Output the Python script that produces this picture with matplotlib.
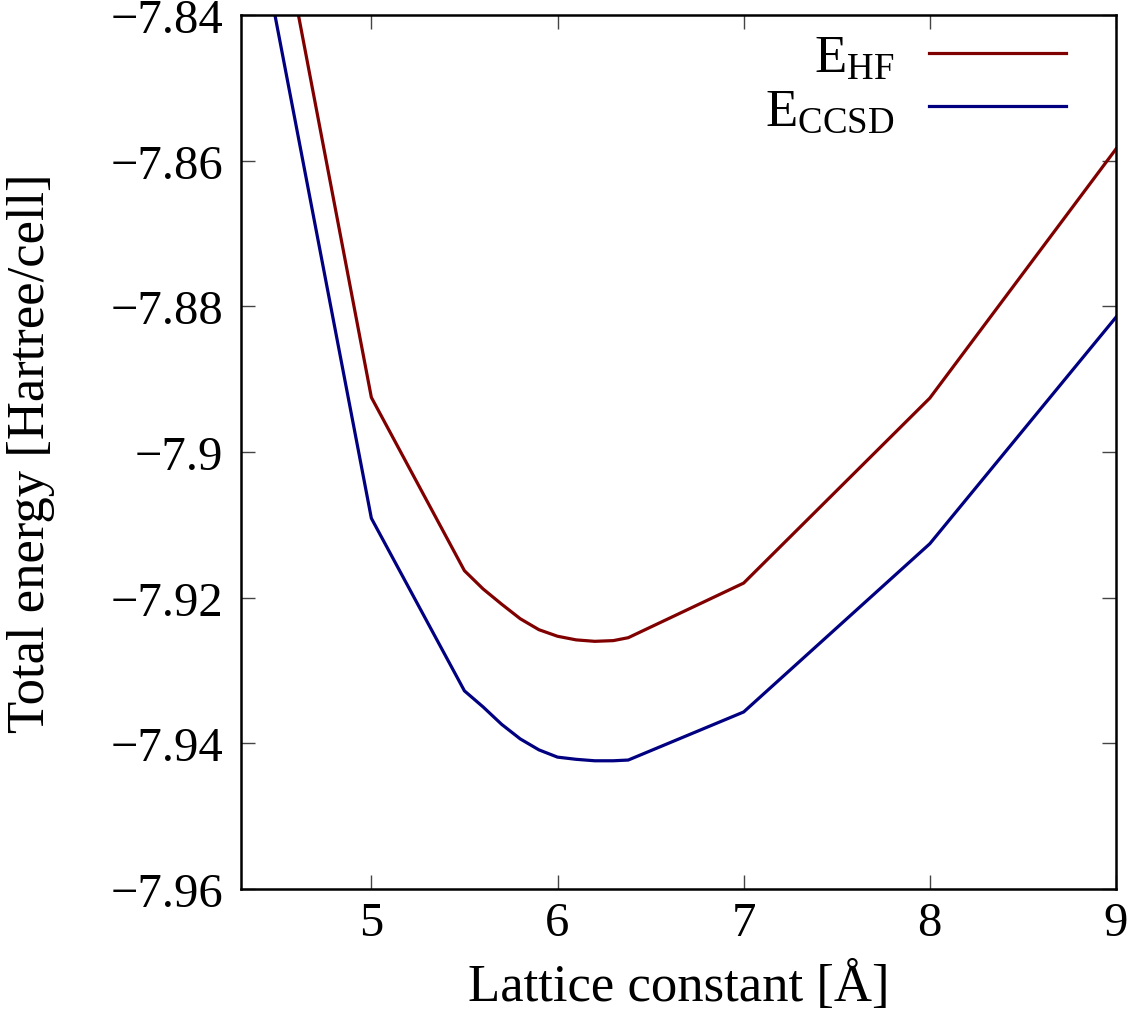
import matplotlib.pyplot as plt
from matplotlib.ticker import FuncFormatter

plt.rcParams['font.family'] = ['Liberation Serif', 'DejaVu Serif']
plt.rcParams['mathtext.fontset'] = 'custom'
plt.rcParams['mathtext.rm'] = 'Liberation Serif'
plt.rcParams['mathtext.it'] = 'Liberation Serif:italic'

# lattice constant [A]
lattice = [4.0, 5.0, 5.5, 5.6, 5.7, 5.8, 5.9, 6.0, 6.1, 6.2, 6.3, 6.38, 7.0, 8.0, 9.0]
# total energies [Hartree/cell]
e_hf = [-7.7585, -7.8925, -7.9163, -7.9188, -7.9209, -7.9229, -7.9244, -7.9253,
        -7.9258, -7.9260, -7.9259, -7.9255, -7.9180, -7.8926, -7.8584]
e_ccsd = [-7.7757, -7.9091, -7.9328, -7.9350, -7.9374, -7.9394, -7.9409, -7.9419,
          -7.9422, -7.9424, -7.9424, -7.9423, -7.9357, -7.9126, -7.8815]

xticks = [5, 6, 7, 8, 9]
yticks = [-7.96, -7.94, -7.92, -7.90, -7.88, -7.86, -7.84]

fig = plt.figure(figsize=(11.37, 10.2), dpi=100)
ax = fig.add_axes([0.212, 0.1275, 0.7695, 0.8568])

ax.plot(lattice, e_hf, color='#800000', lw=2.3, label=r'E$_{\mathrm{HF}}$')
ax.plot(lattice, e_ccsd, color='#000080', lw=2.3, label=r'E$_{\mathrm{CCSD}}$')

ax.set_xlim(4.3, 9)
ax.set_ylim(-7.96, -7.84)
ax.set_xticks(xticks)
ax.set_yticks(yticks)
ax.yaxis.set_major_formatter(FuncFormatter(lambda v, p: ('%g' % v).replace('-', '\u2212')))

ax.tick_params(direction='in', length=10, width=1, top=True, right=True,
               labelsize=35, color='#444444')
ax.tick_params(axis='y', pad=13)
ax.tick_params(axis='x', pad=9)
for s in ax.spines.values():
    s.set_linewidth(1.8)

ax.set_xlabel('Lattice constant [Å]', fontsize=38, labelpad=11)
ax.set_ylabel('Total energy [Hartree/cell]', fontsize=38, labelpad=40)

ax.legend(loc='upper right', bbox_to_anchor=(0.973, 1.008), frameon=False,
          markerfirst=False, fontsize=38, handlelength=2.6, handletextpad=0.65,
          labelspacing=0.1, borderaxespad=0.1)

fig.savefig('out.png', dpi=100)
